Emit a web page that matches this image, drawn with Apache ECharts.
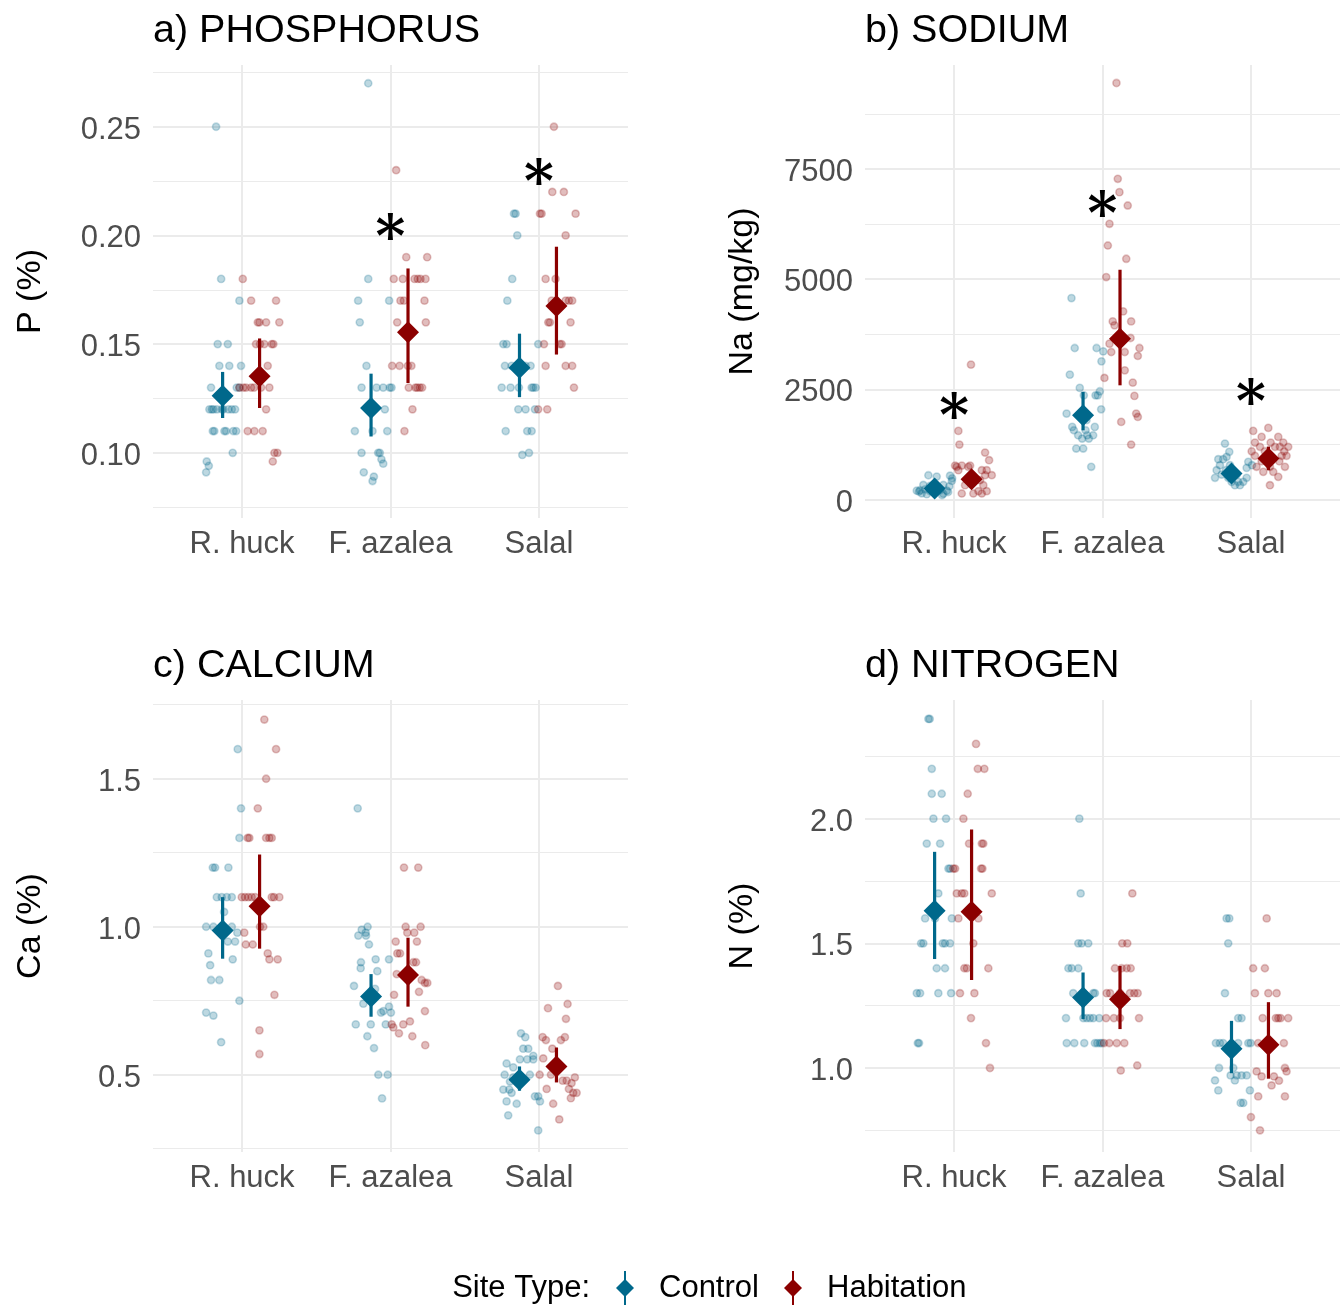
<!DOCTYPE html>
<html><head><meta charset="utf-8">
<script src="https://cdn.jsdelivr.net/npm/echarts@6/dist/echarts.min.js"></script>
<style>html,body{margin:0;padding:0;background:#fff}#chart{width:1343px;height:1306px}</style>
</head><body><div id="chart"></div>
<script>
// ---------------- DATA ----------------
const categories = ['R. huck', 'F. azalea', 'Salal'];
const siteTypes = ['Control', 'Habitation'];
const panelTitles = ['a) PHOSPHORUS', 'b) SODIUM', 'c) CALCIUM', 'd) NITROGEN'];
const axisTitles = ['P (%)', 'Na (mg/kg)', 'Ca (%)', 'N (%)'];

const pTicks = [0.10, 0.15, 0.20, 0.25];
const pTickLabels = ['0.10', '0.15', '0.20', '0.25'];
const pMinorTicks = [0.075, 0.125, 0.175, 0.225, 0.275];
const naTicks = [0, 2500, 5000, 7500];
const naTickLabels = ['0', '2500', '5000', '7500'];
const naMinorTicks = [1250, 3750, 6250, 8750];
const caTicks = [0.5, 1.0, 1.5];
const caTickLabels = ['0.5', '1.0', '1.5'];
const caMinorTicks = [0.25, 0.75, 1.25, 1.75];
const nTicks = [1.0, 1.5, 2.0];
const nTickLabels = ['1.0', '1.5', '2.0'];
const nMinorTicks = [0.75, 1.25, 1.75, 2.25];

// jittered observations: [category index, jitter offset from category centre, value]
const pControl = [
 [0,-0.175,0.25],[0,-0.141,0.18],[0,-0.018,0.17],[0,-0.164,0.15],[0,-0.096,0.15],[0,-0.153,0.14],[0,-0.086,0.14],[0,-0.007,0.14],
 [0,-0.209,0.13],[0,-0.036,0.13],[0,-0.018,0.13],[0,-0.220,0.12],[0,-0.204,0.12],[0,-0.193,0.12],[0,-0.170,0.12],[0,-0.137,0.12],
 [0,-0.126,0.12],[0,-0.092,0.12],[0,-0.069,0.12],[0,-0.047,0.12],[0,-0.197,0.11],[0,-0.187,0.11],[0,-0.119,0.11],[0,-0.108,0.11],
 [0,-0.059,0.11],[0,-0.040,0.11],[0,-0.063,0.10],[0,-0.238,0.096],[0,-0.224,0.094],[0,-0.242,0.091],
 [1,-0.150,0.27],[1,-0.150,0.18],[1,-0.218,0.17],[1,-0.009,0.17],[1,-0.207,0.16],[1,-0.162,0.14],[1,-0.195,0.13],[1,-0.094,0.13],
 [1,-0.049,0.13],[1,-0.005,0.13],[1,0.007,0.13],[1,-0.038,0.12],[1,-0.135,0.12],[1,-0.112,0.12],[1,-0.240,0.11],[1,-0.022,0.11],
 [1,-0.121,0.11],[1,-0.195,0.10],[1,-0.083,0.10],[1,-0.072,0.10],[1,-0.061,0.097],[1,-0.049,0.095],[1,-0.180,0.091],[1,-0.112,0.089],[1,-0.121,0.087],
 [2,-0.168,0.21],[2,-0.157,0.21],[2,-0.146,0.20],[2,-0.180,0.18],[2,-0.213,0.17],[2,-0.240,0.15],[2,-0.218,0.15],[2,-0.005,0.15],
 [2,-0.229,0.14],[2,-0.184,0.14],[2,-0.150,0.14],[2,-0.090,0.14],[2,-0.056,0.14],[2,-0.130,0.14],[2,-0.251,0.13],[2,-0.191,0.13],
 [2,-0.049,0.13],[2,-0.038,0.13],[2,-0.022,0.13],[2,-0.135,0.13],[2,-0.139,0.12],[2,-0.090,0.12],[2,-0.027,0.12],[2,-0.224,0.11],
 [2,-0.079,0.11],[2,-0.049,0.11],[2,-0.067,0.10],[2,-0.112,0.099]
];
const pHabitation = [
 [0,0.005,0.18],[0,0.061,0.17],[0,0.229,0.17],[0,0.106,0.16],[0,0.117,0.16],[0,0.162,0.16],[0,0.251,0.16],[0,0.094,0.15],
 [0,0.121,0.15],[0,0.150,0.15],[0,0.200,0.15],[0,0.211,0.15],[0,0.173,0.14],[0,-0.018,0.13],[0,0.009,0.13],[0,0.027,0.13],
 [0,0.061,0.13],[0,0.081,0.13],[0,0.128,0.13],[0,0.184,0.13],[0,0.162,0.12],[0,0.038,0.11],[0,0.083,0.11],[0,0.139,0.11],
 [0,0.218,0.10],[0,0.238,0.10],[0,0.207,0.096],
 [1,0.038,0.23],[1,0.106,0.19],[1,0.247,0.19],[1,0.022,0.18],[1,0.083,0.18],[1,0.162,0.18],[1,0.184,0.18],[1,0.202,0.18],
 [1,0.236,0.18],[1,0.067,0.17],[1,0.090,0.17],[1,0.229,0.17],[1,0.045,0.16],[1,0.238,0.16],[1,0.011,0.14],[1,0.061,0.14],
 [1,0.117,0.14],[1,0.141,0.14],[1,0.123,0.13],[1,0.168,0.13],[1,0.180,0.13],[1,0.197,0.13],[1,0.213,0.13],[1,0.148,0.12],[1,0.094,0.11],
 [2,0.101,0.25],[2,0.090,0.22],[2,0.168,0.22],[2,0.007,0.21],[2,0.018,0.21],[2,0.247,0.21],[2,0.180,0.20],[2,0.045,0.18],
 [2,0.112,0.18],[2,0.086,0.17],[2,0.180,0.17],[2,0.202,0.17],[2,0.224,0.17],[2,0.063,0.16],[2,0.074,0.16],[2,0.213,0.16],
 [2,0.034,0.15],[2,0.141,0.15],[2,0.153,0.15],[2,0.045,0.14],[2,0.180,0.14],[2,0.224,0.14],[2,0.236,0.13],[2,-0.005,0.12],[2,0.056,0.12]
];
const naControl = [
 [0,-0.173,550],[0,-0.117,520],[0,-0.027,540],[0,-0.013,480],[0,-0.015,420],[0,-0.207,330],[0,-0.162,310],[0,-0.072,330],
 [0,-0.032,300],[0,-0.251,200],[0,-0.229,210],[0,-0.195,230],[0,-0.162,190],[0,-0.094,210],[0,-0.049,200],[0,-0.218,140],
 [0,-0.184,120],[0,-0.072,130],[0,-0.141,260],[0,-0.108,280],[0,-0.128,160],[0,-0.081,100],[0,-0.236,180],[0,-0.040,170],
 [1,-0.209,4570],[1,-0.187,3437],[1,-0.040,3437],[1,0.005,3360],[1,-0.007,3134],[1,-0.220,2832],[1,-0.153,2531],[1,-0.018,2455],
 [1,-0.126,2364],[1,-0.047,2364],[1,-0.032,2364],[1,-0.009,2046],[1,-0.242,1949],[1,-0.204,1647],[1,-0.052,1647],[1,-0.193,1571],
 [1,-0.114,1571],[1,-0.164,1457],[1,-0.103,1457],[1,-0.063,1457],[1,-0.137,1382],[1,-0.092,1382],[1,-0.177,1156],[1,-0.130,1156],
 [1,-0.076,741],[1,-0.130,1900],[1,-0.108,1800],
 [2,-0.175,1269],[2,-0.146,1081],[2,-0.164,967],[2,-0.220,914],[2,-0.187,914],[2,-0.018,854],[2,-0.209,778],[2,-0.141,778],
 [2,0.007,778],[2,-0.029,718],[2,-0.231,664],[2,-0.168,664],[2,-0.197,566],[2,-0.096,566],[2,-0.242,491],[2,-0.153,491],
 [2,-0.029,491],[2,-0.130,401],[2,-0.086,401],[2,-0.052,401],[2,-0.108,324],[2,-0.074,324],[2,-0.128,600],[2,-0.114,560]
];
const naHabitation = [
 [0,0.114,3059],[0,0.029,1556],[0,0.036,1246],[0,0.209,1065],[0,0.236,891],[0,0.007,770],[0,0.052,770],[0,0.108,770],
 [0,0.018,740],[0,0.096,740],[0,0.029,664],[0,0.187,664],[0,0.220,664],[0,0.254,551],[0,0.209,551],[0,0.175,437],
 [0,0.074,324],[0,0.197,324],[0,0.164,188],[0,0.220,188],[0,0.052,136],[0,0.130,136],[0,0.187,136],
 [1,0.094,9449],[1,0.103,7274],[1,0.114,6972],[1,0.170,6669],[1,0.047,6254],[1,0.036,5762],[1,0.160,5461],[1,0.025,5046],
 [1,0.139,4267],[1,0.069,4040],[1,0.193,4040],[1,0.081,3950],[1,0.189,3664],[1,0.047,3535],[1,0.249,3437],[1,0.059,3346],
 [1,0.150,3346],[1,0.238,3256],[1,0.150,2930],[1,0.013,2757],[1,0.204,2651],[1,0.215,2350],[1,0.227,1949],[1,0.238,1873],
 [1,0.126,1760],[1,0.193,1246],
 [2,0.117,1624],[2,0.015,1556],[2,0.072,1420],[2,0.184,1420],[2,0.027,1292],[2,0.133,1292],[2,0.218,1292],[2,0.061,1194],
 [2,0.162,1194],[2,0.195,1194],[2,0.251,1194],[2,0.005,1094],[2,0.094,1094],[2,0.224,1094],[2,0.027,990],[2,0.207,990],
 [2,0.240,990],[2,0.072,868],[2,0.191,868],[2,0.038,741],[2,0.128,741],[2,0.229,741],[2,0.083,627],[2,0.150,627],
 [2,0.184,514],[2,0.128,324]
];
const caControl = [
 [0,-0.029,1.6],[0,-0.007,1.4],[0,-0.018,1.3],[0,-0.197,1.2],[0,-0.182,1.2],[0,-0.092,1.2],[0,-0.170,1.1],[0,-0.137,1.1],
 [0,-0.103,1.1],[0,-0.069,1.1],[0,-0.242,1.0],[0,-0.193,1.0],[0,-0.069,1.0],[0,-0.032,0.98],[0,-0.096,0.95],[0,-0.047,0.95],
 [0,-0.227,0.91],[0,-0.063,0.89],[0,-0.215,0.87],[0,-0.209,0.82],[0,-0.153,0.82],[0,-0.018,0.75],[0,-0.242,0.71],[0,-0.193,0.70],
 [0,-0.141,0.61],[0,-0.135,1.0],[0,-0.121,1.05],
 [1,-0.221,1.40],[1,-0.154,1.0],[1,-0.194,0.99],[1,-0.167,0.98],[1,-0.217,0.97],[1,-0.165,0.97],[1,-0.145,0.94],[1,-0.100,0.89],
 [1,-0.010,0.89],[1,-0.199,0.88],[1,-0.201,0.86],[1,-0.089,0.85],[1,-0.246,0.80],[1,-0.104,0.79],[1,-0.183,0.74],[1,-0.010,0.73],
 [1,-0.048,0.715],[1,-0.064,0.71],[1,0.003,0.71],[1,-0.234,0.67],[1,-0.133,0.67],[1,-0.032,0.67],[1,-0.156,0.63],[1,-0.111,0.59],
 [1,-0.082,0.50],[1,-0.019,0.50],[1,-0.057,0.42],
 [2,-0.121,0.64],[2,-0.092,0.627],[2,-0.072,0.588],[2,-0.106,0.588],[2,-0.038,0.564],[2,-0.128,0.552],[2,-0.079,0.552],[2,-0.038,0.552],
 [2,-0.218,0.538],[2,-0.173,0.525],[2,-0.231,0.50],[2,-0.061,0.50],[2,-0.173,0.491],[2,-0.195,0.477],[2,-0.240,0.45],[2,-0.200,0.45],
 [2,-0.184,0.439],[2,-0.027,0.427],[2,-0.005,0.427],[2,-0.218,0.41],[2,0.007,0.41],[2,-0.150,0.402],[2,-0.207,0.363],[2,-0.005,0.312]
];
const caHabitation = [
 [0,0.150,1.7],[0,0.229,1.6],[0,0.162,1.5],[0,0.106,1.4],[0,0.038,1.3],[0,0.049,1.3],[0,0.162,1.3],[0,0.184,1.3],
 [0,0.200,1.3],[0,-0.002,1.1],[0,0.020,1.1],[0,0.042,1.1],[0,0.065,1.1],[0,0.088,1.1],[0,0.200,1.1],[0,0.215,1.1],
 [0,0.251,1.1],[0,0.121,1.0],[0,0.143,1.0],[0,0.015,0.98],[0,0.025,0.94],[0,0.072,0.94],[0,0.173,0.91],[0,0.184,0.89],
 [0,0.240,0.89],[0,0.218,0.77],[0,0.117,0.65],[0,0.117,0.57],
 [1,0.091,1.2],[1,0.187,1.2],[1,0.102,1.0],[1,0.203,1.0],[1,0.113,0.98],[1,0.160,0.98],[1,0.035,0.95],[1,0.178,0.95],
 [1,0.046,0.91],[1,0.064,0.91],[1,0.154,0.88],[1,0.172,0.88],[1,0.042,0.84],[1,0.210,0.82],[1,0.232,0.81],[1,0.248,0.81],
 [1,0.192,0.78],[1,0.024,0.77],[1,0.232,0.715],[1,0.131,0.68],[1,0.008,0.67],[1,0.086,0.67],[1,0.019,0.66],[1,0.057,0.64],
 [1,0.147,0.63],[1,0.234,0.60],
 [2,0.128,0.80],[2,0.193,0.739],[2,0.061,0.725],[2,0.182,0.689],[2,0.025,0.627],[2,0.175,0.627],[2,0.047,0.617],[2,0.148,0.617],
 [2,0.090,0.588],[2,0.029,0.555],[2,0.005,0.50],[2,0.081,0.50],[2,0.242,0.491],[2,0.160,0.48],[2,0.187,0.48],[2,0.220,0.472],
 [2,0.052,0.452],[2,0.202,0.452],[2,0.254,0.439],[2,0.231,0.439],[2,0.215,0.421],[2,0.096,0.402],[2,0.137,0.349]
];
const nControl = [
 [0,-0.173,2.4],[0,-0.164,2.4],[0,-0.150,2.2],[0,-0.150,2.1],[0,-0.083,2.1],[0,-0.139,2.0],[0,-0.054,2.0],[0,-0.184,1.9],
 [0,-0.094,1.9],[0,-0.038,1.8],[0,-0.027,1.8],[0,-0.106,1.7],[0,-0.195,1.6],[0,-0.015,1.6],[0,-0.128,1.6],[0,-0.222,1.5],
 [0,-0.207,1.5],[0,-0.076,1.5],[0,-0.061,1.5],[0,-0.027,1.5],[0,-0.117,1.4],[0,-0.061,1.4],[0,-0.251,1.3],[0,-0.229,1.3],
 [0,-0.106,1.3],[0,-0.020,1.3],[0,-0.244,1.1],[0,-0.236,1.1],
 [1,-0.156,2.0],[1,-0.147,1.7],[1,-0.163,1.5],[1,-0.140,1.5],[1,-0.096,1.5],[1,-0.230,1.4],[1,-0.207,1.4],[1,-0.163,1.4],
 [1,-0.197,1.3],[1,-0.062,1.3],[1,-0.051,1.3],[1,-0.129,1.3],[1,-0.246,1.2],[1,-0.106,1.2],[1,-0.084,1.2],[1,-0.062,1.2],
 [1,-0.022,1.2],[1,-0.129,1.2],[1,-0.241,1.1],[1,-0.190,1.1],[1,-0.123,1.1],[1,-0.051,1.1],[1,-0.035,1.1],[1,-0.017,1.1],[1,-0.005,1.1],
 [2,-0.164,1.6],[2,-0.146,1.6],[2,-0.153,1.5],[2,-0.175,1.3],[2,-0.086,1.2],[2,-0.063,1.2],[2,-0.236,1.1],[2,-0.209,1.1],
 [2,-0.187,1.1],[2,-0.086,1.1],[2,-0.018,1.1],[2,-0.002,1.1],[2,-0.215,1.0],[2,-0.119,1.0],[2,-0.137,0.97],[2,-0.096,0.97],
 [2,-0.063,0.97],[2,-0.029,0.97],[2,-0.242,0.95],[2,-0.108,0.95],[2,-0.220,0.91],[2,-0.007,0.91],[2,-0.069,0.86],[2,-0.052,0.86]
];
const nHabitation = [
 [0,0.148,2.3],[0,0.160,2.2],[0,0.204,2.2],[0,0.092,2.1],[0,0.063,2.0],[0,0.101,1.9],[0,0.187,1.9],[0,0.197,1.9],
 [0,-0.005,1.8],[0,0.007,1.8],[0,0.182,1.8],[0,0.191,1.8],[0,0.018,1.7],[0,0.052,1.7],[0,0.069,1.7],[0,0.254,1.7],
 [0,0.029,1.6],[0,0.164,1.6],[0,0.130,1.5],[0,0.069,1.4],[0,0.086,1.4],[0,0.231,1.4],[0,0.040,1.3],[0,0.137,1.3],
 [0,0.114,1.2],[0,0.215,1.1],[0,0.242,1.0],
 [1,0.201,1.7],[1,0.133,1.5],[1,0.167,1.5],[1,0.084,1.4],[1,0.129,1.4],[1,0.163,1.4],[1,0.190,1.4],[1,0.028,1.3],
 [1,0.051,1.3],[1,0.185,1.3],[1,0.214,1.3],[1,0.237,1.3],[1,0.118,1.3],[1,0.024,1.2],[1,0.077,1.2],[1,0.246,1.2],
 [1,0.118,1.2],[1,0.010,1.1],[1,0.046,1.1],[1,0.096,1.1],[1,0.147,1.1],[1,0.123,0.99],[1,0.234,1.01],
 [2,0.106,1.6],[2,0.015,1.4],[2,0.094,1.4],[2,0.027,1.3],[2,0.117,1.3],[2,0.173,1.3],[2,0.079,1.2],[2,0.168,1.2],
 [2,0.184,1.2],[2,0.200,1.2],[2,0.251,1.2],[2,0.049,1.1],[2,0.222,1.1],[2,0.229,1.0],[2,0.038,0.986],[2,0.240,0.986],
 [2,0.072,0.966],[2,0.155,0.966],[2,0.189,0.949],[2,0.139,0.93],[2,0.049,0.886],[2,0.229,0.886],[2,0.000,0.803],[2,0.061,0.75]
];

const pMeanControl = [0.1262, 0.1206, 0.1391];
const pLowControl = [0.1160, 0.1075, 0.1256];
const pHighControl = [0.1372, 0.1364, 0.1548];
const pMeanHabitation = [0.1352, 0.1555, 0.1675];
const pLowHabitation = [0.1206, 0.1321, 0.1452];
const pHighHabitation = [0.1526, 0.1848, 0.1948];
const naMeanControl = [249, 1910, 589];
const naLowControl = [180, 1570, 480];
const naHighControl = [320, 2440, 700];
const naMeanHabitation = [460, 3648, 929];
const naLowHabitation = [300, 2590, 664];
const naHighHabitation = [650, 5212, 1200];
const caMeanControl = [0.987, 0.764, 0.483];
const caLowControl = [0.892, 0.696, 0.446];
const caHighControl = [1.100, 0.840, 0.528];
const caMeanHabitation = [1.069, 0.837, 0.528];
const caLowHabitation = [0.926, 0.730, 0.474];
const caHighHabitation = [1.244, 0.963, 0.592];
const nMeanControl = [1.631, 1.283, 1.077];
const nLowControl = [1.437, 1.196, 0.979];
const nHighControl = [1.867, 1.383, 1.189];
const nMeanHabitation = [1.627, 1.276, 1.093];
const nLowHabitation = [1.353, 1.156, 0.957];
const nHighHabitation = [1.957, 1.409, 1.264];

// significance markers: [category index, value]
const pStars = [[1, 0.2034], [2, 0.2288]];
const naStars = [[0, 2100], [1, 6669], [2, 2424]];

const pLimits = [0.0700, 0.2784];
const naLimits = [-420, 9857];
const caLimits = [0.239, 1.766];
const nLimits = [0.663, 2.476];

// ---------------- CHART ----------------
const FONT = '"Liberation Sans", Arial, sans-serif';
const STAR_FONT = '"DejaVu Serif", serif';
const STAR_SIZE = 57;
const COLORS = ['#00688B', '#8B0000'];
const FILLS = ['rgba(0,104,139,0.32)', 'rgba(139,0,0,0.32)'];
const RINGS = ['rgba(0,104,139,0.28)', 'rgba(139,0,0,0.28)'];
const DODGE = [-0.131, 0.118];
const GRID_COLOR = '#ebebeb';

const panels = [
  {ticks: pTicks, labels: pTickLabels, minor: pMinorTicks, limits: pLimits, pts: [pControl, pHabitation],
   mean: [pMeanControl, pMeanHabitation], low: [pLowControl, pLowHabitation], high: [pHighControl, pHighHabitation], stars: pStars},
  {ticks: naTicks, labels: naTickLabels, minor: naMinorTicks, limits: naLimits, pts: [naControl, naHabitation],
   mean: [naMeanControl, naMeanHabitation], low: [naLowControl, naLowHabitation], high: [naHighControl, naHighHabitation], stars: naStars},
  {ticks: caTicks, labels: caTickLabels, minor: caMinorTicks, limits: caLimits, pts: [caControl, caHabitation],
   mean: [caMeanControl, caMeanHabitation], low: [caLowControl, caLowHabitation], high: [caHighControl, caHighHabitation], stars: []},
  {ticks: nTicks, labels: nTickLabels, minor: nMinorTicks, limits: nLimits, pts: [nControl, nHabitation],
   mean: [nMeanControl, nMeanHabitation], low: [nLowControl, nLowHabitation], high: [nHighControl, nHighHabitation], stars: []}
];
const layout = [
  {left: 153, top: 65, width: 475, height: 453},
  {left: 865, top: 65, width: 475, height: 453},
  {left: 153, top: 700, width: 475, height: 452},
  {left: 865, top: 700, width: 475, height: 452}
];
const catPos = categories.map((c, k) => k + 1);

const grids = [], xAxes = [], yAxes = [], series = [], graphics = [];
panels.forEach((p, i) => {
  grids.push(Object.assign({containLabel: false, outerBoundsMode: 'none'}, layout[i]));
  xAxes.push({
    gridIndex: i, type: 'value', min: 0.4, max: 3.6,
    axisLine: {show: false}, axisTick: {show: false, customValues: catPos},
    axisLabel: {customValues: catPos, formatter: v => categories[Math.round(v) - 1] || '',
      color: '#4d4d4d', fontSize: 31, fontFamily: FONT, margin: 11},
    splitLine: {show: true, lineStyle: {color: GRID_COLOR, width: 2}}
  });
  yAxes.push({
    gridIndex: i, type: 'value', min: p.limits[0], max: p.limits[1], position: 'left',
    axisLine: {show: false}, axisTick: {show: false, customValues: p.ticks},
    axisLabel: {customValues: p.ticks, color: '#4d4d4d', fontSize: 31, fontFamily: FONT, margin: 12,
      rich: {v: {color: '#4d4d4d', fontSize: 31, fontFamily: FONT, padding: [7, 0, 0, 0]}},
      formatter: v => { const j = p.ticks.findIndex(t => Math.abs(t - v) < 1e-9); return j >= 0 ? '{v|' + p.labels[j] + '}' : ''; }},
    splitLine: {show: true, lineStyle: {color: GRID_COLOR, width: 2}}
  });
  yAxes.push({
    gridIndex: i, type: 'value', min: p.limits[0], max: p.limits[1], position: 'left', offset: 0,
    axisLine: {show: false}, axisTick: {show: false, customValues: p.minor},
    axisLabel: {show: false, customValues: p.minor},
    splitLine: {show: true, lineStyle: {color: GRID_COLOR, width: 1.2}}
  });
  [0, 1].forEach(s => {
    series.push({
      type: 'scatter', name: siteTypes[s], xAxisIndex: i, yAxisIndex: 2 * i, z: 5,
      symbol: 'diamond', symbolSize: [22, 22], itemStyle: {color: COLORS[s], opacity: 1},
      data: p.mean[s].map((m, k) => [catPos[k] + DODGE[s], m]), silent: true
    });
    series.push({
      type: 'custom', name: siteTypes[s], xAxisIndex: i, yAxisIndex: 2 * i, z: 4,
      data: p.mean[s].map((m, k) => [catPos[k] + DODGE[s], p.low[s][k], p.high[s][k]]),
      encode: {x: 0, y: [1, 2]},
      renderItem: (params, api) => {
        const a = api.coord([api.value(0), api.value(1)]);
        const b = api.coord([api.value(0), api.value(2)]);
        return {type: 'line', shape: {x1: a[0], y1: a[1], x2: b[0], y2: b[1]},
          style: {stroke: COLORS[s], lineWidth: 3.2}};
      }
    });
    series.push({
      type: 'scatter', name: siteTypes[s], xAxisIndex: i, yAxisIndex: 2 * i, z: 2,
      symbol: 'circle', symbolSize: 7.2,
      itemStyle: {color: FILLS[s], borderColor: RINGS[s], borderWidth: 1.6},
      data: p.pts[s].map(d => [catPos[d[0]] + d[1], d[2]]), silent: true
    });
  });
  if (p.stars.length) {
    series.push({
      type: 'custom', name: 'sig', xAxisIndex: i, yAxisIndex: 2 * i, z: 6,
      data: p.stars.map(d => [catPos[d[0]], d[1]]), encode: {x: 0, y: 1},
      renderItem: (params, api) => {
        const c = api.coord([api.value(0), api.value(1)]);
        return {type: 'text', x: c[0], y: c[1] + STAR_SIZE * 0.23,
          style: {text: '*', fontSize: STAR_SIZE, fontFamily: STAR_FONT, fontWeight: 'bold', fill: '#000', align: 'center', verticalAlign: 'middle'}};
      }
    });
  }
  graphics.push({type: 'text', x: layout[i].left, y: layout[i].top - 34,
    style: {text: panelTitles[i], fontSize: 39.5, fontFamily: FONT, fill: '#000', align: 'left', verticalAlign: 'middle'}});
  graphics.push({type: 'text', x: layout[i].left - 122, y: layout[i].top + layout[i].height / 2, rotation: Math.PI / 2,
    style: {text: axisTitles[i], fontSize: 34, fontFamily: FONT, fill: '#000', align: 'center', verticalAlign: 'middle'}});
});
graphics.push({type: 'text', x: 590, y: 1288,
  style: {text: 'Site Type:', fontSize: 31, fontFamily: FONT, fill: '#000', align: 'right', verticalAlign: 'middle'}});

const ICON = 'path://M9,0L11,0L11,9L19,17L11,25L11,34L9,34L9,25L1,17L9,9Z';
const legendAt = [616, 784];
const chart = echarts.init(document.getElementById('chart'), null, {renderer: 'canvas', width: 1343, height: 1306});
chart.setOption({
  animation: false,
  backgroundColor: '#ffffff',
  grid: grids, xAxis: xAxes, yAxis: yAxes, series: series, graphic: graphics,
  legend: siteTypes.map((n, s) => ({
    show: true, left: legendAt[s], top: 1271, padding: 0, orient: 'horizontal',
    itemWidth: 18, itemHeight: 34, selectedMode: false,
    textStyle: {fontSize: 31, fontFamily: FONT, color: '#000', padding: [0, 0, 0, 20]},
    data: [{name: n, icon: ICON, itemStyle: {color: COLORS[s], opacity: 1}}]
  }))
});
</script></body></html>
